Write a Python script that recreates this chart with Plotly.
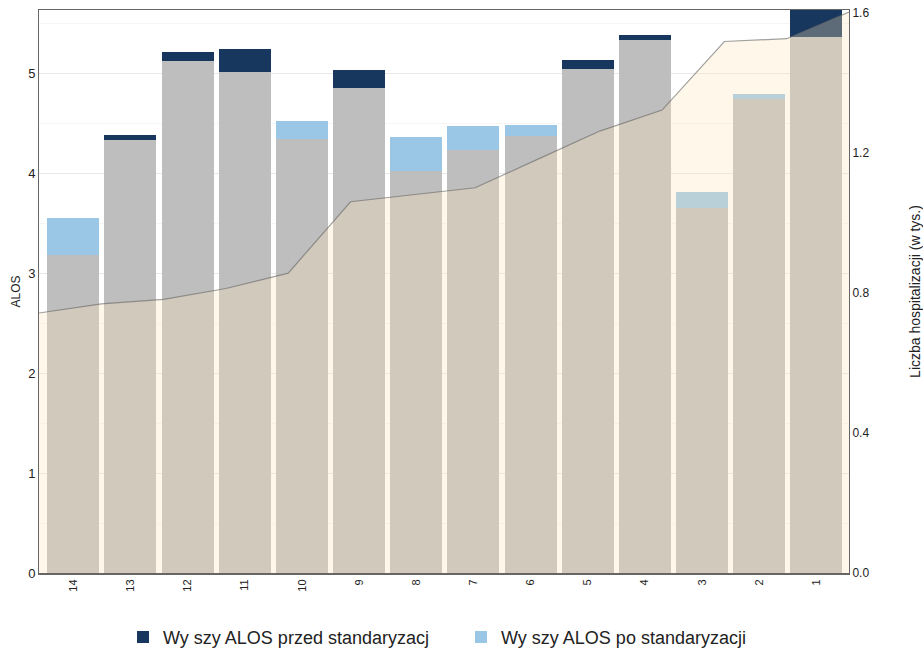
import plotly.graph_objects as go

# ---- data ----
categories = ["14", "13", "12", "11", "10", "9", "8", "7", "6", "5", "4", "3", "2", "1"]
alos_przed = [3.18, 4.38, 5.21, 5.24, 4.34, 5.03, 4.02, 4.23, 4.37, 5.13, 5.38, 3.65, 4.74, 5.75]
alos_po = [3.55, 4.33, 5.12, 5.01, 4.52, 4.85, 4.36, 4.47, 4.48, 5.04, 5.33, 3.81, 4.79, 5.36]
hospitalizacje = [0.743, 0.769, 0.782, 0.813, 0.857, 1.061, 1.081, 1.101, 1.182, 1.263, 1.323, 1.519, 1.527, 1.603]

label_przed = "Wy szy ALOS przed standaryzacj"
label_po = "Wy szy ALOS po standaryzacji"

base = [min(a, b) for a, b in zip(alos_przed, alos_po)]
diff_przed = [max(a - b, 0) for a, b in zip(alos_przed, alos_po)]
diff_po = [max(b - a, 0) for a, b in zip(alos_przed, alos_po)]

FONT = "Liberation Sans, Arial, sans-serif"

fig = go.Figure()
fig.add_trace(go.Bar(x=categories, y=base, marker=dict(color="#BEBEBE", line=dict(width=0)),
                     showlegend=False, hoverinfo="skip"))
fig.add_trace(go.Bar(x=categories, y=diff_przed, name=label_przed,
                     marker=dict(color="#17375E", line=dict(width=0))))
fig.add_trace(go.Bar(x=categories, y=diff_po, name=label_po,
                     marker=dict(color="#9BC7E6", line=dict(width=0))))

fig.add_trace(go.Scatter(x=list(range(len(hospitalizacje))), y=hospitalizacje,
                         xaxis="x2", yaxis="y2", mode="lines", fill="tozeroy",
                         fillcolor="rgba(255,227,185,0.3)",
                         line=dict(color="rgba(100,100,100,0.6)", width=1.2),
                         showlegend=False, hoverinfo="skip"))

fig.update_layout(
    width=923, height=653,
    margin=dict(l=39, r=74, t=10, b=80, autoexpand=False),
    paper_bgcolor="white", plot_bgcolor="white",
    barmode="stack", bargap=0.09,
    font=dict(family=FONT, color="#222", size=12),
    xaxis=dict(type="category", range=[-0.6, 13.57], tickangle=-90, automargin=False,
               tickfont=dict(size=11, color="#222"), showgrid=False, ticks="",
               showline=True, linecolor="#666", linewidth=2),
    xaxis2=dict(overlaying="x", range=[0, 13], side="top", showgrid=False, automargin=False,
                showticklabels=False, ticks="", showline=True,
                linecolor="#666", linewidth=1, zeroline=False),
    yaxis=dict(range=[0, 5.63], dtick=1, tick0=0, showgrid=True, gridcolor="#E8E8E8",
               minor=dict(dtick=0.5, showgrid=True, gridcolor="#F5F5F5"), automargin=False,
               zeroline=False, showline=True, linecolor="#666", linewidth=1,
               ticks="", tickfont=dict(size=13, color="#222"),
               title=dict(text="ALOS", font=dict(size=12, color="#222"), standoff=4)),
    yaxis2=dict(overlaying="y", side="right", anchor="x", range=[0, 1.609], automargin=False,
                dtick=0.4, tick0=0, tickformat=".1f", showgrid=False, zeroline=False,
                showline=True, linecolor="#666", linewidth=1, ticks="",
                tickfont=dict(size=12, color="#222"),
                title=dict(text="Liczba hospitalizacji (w tys.)",
                           font=dict(size=14, color="#222"), standoff=41)),
    legend=dict(orientation="h", x=0.521, xanchor="center", y=-0.114, yanchor="middle",
                font=dict(size=18, color="#222"), entrywidth=293, traceorder="normal"),
)

fig.write_html("out.html", config={"displayModeBar": False},
               post_script="document.body.style.margin='0';")
